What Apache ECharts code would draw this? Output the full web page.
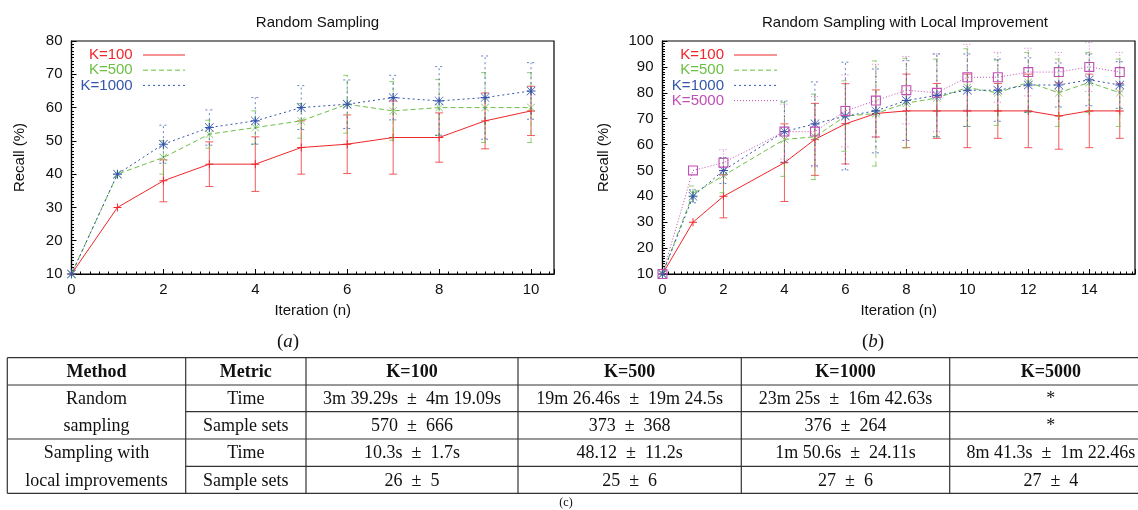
<!DOCTYPE html>
<html>
<head>
<meta charset="utf-8">
<script src="https://cdn.jsdelivr.net/npm/echarts@6/dist/echarts.min.js"></script>
<style>
html,body{margin:0;padding:0;background:#fff;}
#main{width:1138px;height:510px;}
</style>
</head>
<body>
<div id="main"></div>
<script>
// panel (a): Random Sampling
var iterA = [0, 1, 2, 3, 4, 5, 6, 7, 8, 9, 10];
var a100 = [10, 30, 38, 43, 43, 48, 49, 51, 51, 56, 59];
var a100Err = [0, 0, 6.3, 6.7, 8.2, 8, 8.8, 11, 7.4, 8.4, 7.4];
var a500 = [10, 40, 45, 52, 54, 56, 61, 59, 60, 60, 60];
var a500Err = [0, 0, 5, 4.2, 5, 5.2, 8.7, 8.8, 8.4, 10.5, 10.5];
var a1000 = [10, 40, 49, 54, 56, 60, 61, 63, 62, 63, 65];
var a1000Err = [0, 0, 5.7, 5.3, 7, 6.6, 7.3, 6.7, 10.3, 12.5, 8.5];

// panel (b): Random Sampling with Local Improvement (no run at n=3)
var iterB = [0, 1, 2, 4, 5, 6, 7, 8, 9, 10, 11, 12, 13, 14, 15];
var b100 = [10, 30, 40, 53, 62, 68, 72, 73, 73, 73, 73, 73, 71, 73, 73];
var b100Err = [0, 0, 8.3, 15, 13.9, 15.5, 9.1, 14.2, 10.6, 14.2, 10.6, 14.2, 12.8, 14.2, 10.6];
var b500 = [10, 41, 48, 62, 63, 71, 72, 76, 78, 82, 80, 84, 80, 84, 80];
var b500Err = [0, 3, 6.6, 14.3, 16.5, 13.6, 20.3, 17.3, 15, 15, 12.6, 11.6, 13, 11.6, 13];
var b1000 = [10, 40, 50, 65, 68, 71, 73, 77, 79, 81, 81, 83, 83, 85, 83];
var b1000Err = [0, 2.5, 5, 11.8, 16.2, 20.8, 16.2, 15.4, 16, 14, 12, 10.5, 8.5, 10, 9];
var b5000 = [10, 50, 53, 65, 65, 73, 77, 81, 80, 86, 86, 88, 88, 90, 88];
var b5000Err = [0, 0, 5, 10.6, 13.6, 13.9, 14, 13, 15, 12.7, 9.6, 9.2, 7.6, 9.5, 7.6];

// tick labels
var xTicksA = [0, 2, 4, 6, 8, 10];
var yTicksA = [10, 20, 30, 40, 50, 60, 70, 80];
var xTicksB = [0, 2, 4, 6, 8, 10, 12, 14];
var yTicksB = [10, 20, 30, 40, 50, 60, 70, 80, 90, 100];

// table (c)
var PM = '\u2002\u00b1\u2002';
var tableHeader = ['Method', 'Metric', 'K=100', 'K=500', 'K=1000', 'K=5000'];
var methodLabels = [['Random', 'sampling'], ['Sampling with', 'local improvements']];
var metricLabels = ['Time', 'Sample sets', 'Time', 'Sample sets'];
var tableCells = [
    ['3m 39.29s' + PM + '4m 19.09s', '19m 26.46s' + PM + '19m 24.5s', '23m 25s' + PM + '16m 42.63s', '*'],
    ['570' + PM + '666', '373' + PM + '368', '376' + PM + '264', '*'],
    ['10.3s' + PM + '1.7s', '48.12' + PM + '11.2s', '1m 50.6s' + PM + '24.11s', '8m 41.3s' + PM + '1m 22.46s'],
    ['26' + PM + '5', '25' + PM + '6', '27' + PM + '6', '27' + PM + '4']
];

var SANS = '"Liberation Sans", Arial, sans-serif';
var SERIF = '"Liberation Serif", "Times New Roman", serif';

var PLUS = 'path://M0,4.4H10V5.6H0Z M4.4,0H5.6V10H4.4Z';
var CROSS = 'path://M0.5,0L5,4.5L9.5,0L10,0.5L5.5,5L10,9.5L9.5,10L5,5.5L0.5,10L0,9.5L4.5,5L0,0.5Z';
var STAR = 'path://M0.5,0L5,4.5L9.5,0L10,0.5L5.5,5L10,9.5L9.5,10L5,5.5L0.5,10L0,9.5L4.5,5L0,0.5Z M0,4.4H10V5.6H0Z M4.4,0H5.6V10H4.4Z';
var BOX = 'path://M0,0H10V10H0Z M1.1,1.1V8.9H8.9V1.1Z';

var styles = {
    k100: {label: 'K=100', color: '#f0262a', dash: null, symbol: PLUS, size: 8, z: 2},
    k500: {label: 'K=500', color: '#6cbf45', dash: [5, 3], symbol: CROSS, size: 8, z: 3},
    k1000: {label: 'K=1000', color: '#3455ab', dash: [2, 3], symbol: STAR, size: 9, z: 4},
    k5000: {label: 'K=5000', color: '#c04fb4', dash: [1, 2], symbol: BOX, size: 10, z: 5}
};

function lineSeries(gi, xs, ys, st) {
    return {
        type: 'line', name: st.label, xAxisIndex: gi, yAxisIndex: gi,
        data: xs.map(function (x, i) { return [x, ys[i]]; }),
        symbol: st.symbol, symbolSize: st.size, showSymbol: true, clip: false,
        lineStyle: {color: st.color, width: 1, type: st.dash || 'solid'},
        itemStyle: {color: st.color, borderWidth: 0},
        z: st.z, animation: false
    };
}

function errSeries(gi, xs, ys, errs, st) {
    var data = [];
    xs.forEach(function (x, i) {
        if (errs[i] > 0) data.push([x, ys[i] - errs[i], ys[i] + errs[i]]);
    });
    return {
        type: 'custom', xAxisIndex: gi, yAxisIndex: gi, data: data, clip: false, silent: true,
        z: st.z, animation: false,
        encode: {x: 0, y: [1, 2]},
        renderItem: function (params, api) {
            var lo = api.coord([api.value(0), api.value(1)]);
            var hi = api.coord([api.value(0), api.value(2)]);
            var c = 4;
            function sty() {
                return {stroke: st.color, lineWidth: 1, lineDash: st.dash, opacity: 0.75};
            }
            return {type: 'group', children: [
                {type: 'line', shape: {x1: lo[0], y1: lo[1], x2: hi[0], y2: hi[1]}, style: sty()},
                {type: 'line', shape: {x1: lo[0] - c, y1: lo[1], x2: lo[0] + c, y2: lo[1]}, style: sty()},
                {type: 'line', shape: {x1: hi[0] - c, y1: hi[1], x2: hi[0] + c, y2: hi[1]}, style: sty()}
            ]};
        }
    };
}

function xAxisCfg(gi, ticks, max) {
    return {
        type: 'value', gridIndex: gi, min: ticks[0], max: max, interval: ticks[1] - ticks[0],
        name: 'Iteration (n)', nameLocation: 'middle', nameGap: 29,
        nameTextStyle: {fontSize: 15, color: '#111', fontFamily: SANS},
        axisLine: {show: true, onZero: false, lineStyle: {color: '#000', width: 1.2}},
        axisTick: {show: true, inside: true, length: 5, lineStyle: {color: '#000', width: 1}},
        minorTick: {show: true, splitNumber: 10, length: 2.5, lineStyle: {color: '#000', width: 1}},
        axisLabel: {margin: 8, fontSize: 15, color: '#111', fontFamily: SANS,
            formatter: function (v) { return ticks.indexOf(v) >= 0 ? String(v) : ''; }},
        splitLine: {show: false}
    };
}

function yAxisCfg(gi, ticks, gap) {
    return {
        type: 'value', gridIndex: gi, min: ticks[0], max: ticks[ticks.length - 1], interval: ticks[1] - ticks[0],
        name: 'Recall (%)', nameLocation: 'middle', nameGap: gap,
        nameTextStyle: {fontSize: 15, color: '#111', fontFamily: SANS},
        axisLine: {show: true, onZero: false, lineStyle: {color: '#000', width: 1.2}},
        axisTick: {show: true, inside: true, length: 5, lineStyle: {color: '#000', width: 1}},
        minorTick: {show: true, splitNumber: 10, length: 2.5, lineStyle: {color: '#000', width: 1}},
        axisLabel: {margin: 9, fontSize: 15, color: '#111', fontFamily: SANS},
        splitLine: {show: false}
    };
}

// legend drawn as key lines like the original plot
function legendItems(keys, textRight, lineX1, lineX2, y0) {
    var out = [];
    keys.forEach(function (k, i) {
        var st = styles[k];
        var y = y0 + i * 15.2;
        out.push({type: 'text', silent: true, style: {text: st.label, x: textRight, y: y, align: 'right', verticalAlign: 'middle',
            font: '15px ' + SANS, fill: st.color}});
        out.push({type: 'line', silent: true, shape: {x1: lineX1, y1: y, x2: lineX2, y2: y},
            style: {stroke: st.color, lineWidth: 1, lineDash: st.dash}});
    });
    return out;
}

var colX = [7.3, 185.7, 306, 518, 741.3, 949.7, 1152];
var rowY = [357.7, 385, 411.7, 439, 466.3, 493.3];

function tableItems() {
    var out = [];
    var lineSty = {stroke: '#333', lineWidth: 1.2};
    [0, 1, 3, 5].forEach(function (r) {
        out.push({type: 'line', silent: true, shape: {x1: colX[0], y1: rowY[r], x2: colX[6], y2: rowY[r]}, style: lineSty});
    });
    [2, 4].forEach(function (r) {
        out.push({type: 'line', silent: true, shape: {x1: colX[1], y1: rowY[r], x2: colX[6], y2: rowY[r]}, style: lineSty});
    });
    colX.forEach(function (x) {
        out.push({type: 'line', silent: true, shape: {x1: x, y1: rowY[0], x2: x, y2: rowY[5]}, style: lineSty});
    });
    function cell(text, c, r, bold) {
        out.push({type: 'text', silent: true, style: {text: text, x: (colX[c] + colX[c + 1]) / 2, y: (rowY[r] + rowY[r + 1]) / 2 + 1,
            align: 'center', verticalAlign: 'middle', font: (bold ? 'bold ' : '') + '18px ' + SERIF, fill: '#111'}});
    }
    tableHeader.forEach(function (h, c) { cell(h, c, 0, true); });
    methodLabels.forEach(function (pair, m) {
        cell(pair[0], 0, 1 + m * 2);
        cell(pair[1], 0, 2 + m * 2);
    });
    metricLabels.forEach(function (t, r) { cell(t, 1, r + 1); });
    tableCells.forEach(function (row, r) {
        row.forEach(function (t, c) { cell(t, c + 2, r + 1); });
    });
    return out;
}

function panelLabel(letter, x, y) {
    return {type: 'text', silent: true, style: {text: '({i|' + letter + '})', x: x, y: y, align: 'center', verticalAlign: 'middle',
        font: '19px ' + SERIF, fill: '#111',
        rich: {i: {fontStyle: 'italic', fontSize: 19, fontFamily: SERIF, fill: '#111'}}}};
}

var chart = echarts.init(document.getElementById('main'), null, {renderer: 'canvas'});

var option = {
    backgroundColor: '#fff',
    animation: false,
    title: [
        {text: 'Random Sampling', left: 312.5, top: 10, textAlign: 'center',
            textStyle: {fontSize: 15, fontWeight: 'normal', color: '#111', fontFamily: SANS}},
        {text: 'Random Sampling with Local Improvement', left: 900, top: 10, textAlign: 'center',
            textStyle: {fontSize: 15, fontWeight: 'normal', color: '#111', fontFamily: SANS}}
    ],
    grid: [
        {left: 71.5, top: 41, width: 482.5, height: 233, show: true, borderColor: '#000', borderWidth: 1.2, containLabel: false},
        {left: 662.5, top: 41, width: 474, height: 233, show: true, borderColor: '#000', borderWidth: 1.2, containLabel: false}
    ],
    xAxis: [xAxisCfg(0, xTicksA, 10.5), xAxisCfg(1, xTicksB, 15.5)],
    yAxis: [yAxisCfg(0, yTicksA, 44), yAxisCfg(1, yTicksB, 51)],
    series: [
        errSeries(0, iterA, a100, a100Err, styles.k100),
        errSeries(0, iterA, a500, a500Err, styles.k500),
        errSeries(0, iterA, a1000, a1000Err, styles.k1000),
        lineSeries(0, iterA, a100, styles.k100),
        lineSeries(0, iterA, a500, styles.k500),
        lineSeries(0, iterA, a1000, styles.k1000),
        errSeries(1, iterB, b100, b100Err, styles.k100),
        errSeries(1, iterB, b500, b500Err, styles.k500),
        errSeries(1, iterB, b1000, b1000Err, styles.k1000),
        errSeries(1, iterB, b5000, b5000Err, styles.k5000),
        lineSeries(1, iterB, b100, styles.k100),
        lineSeries(1, iterB, b500, styles.k500),
        lineSeries(1, iterB, b1000, styles.k1000),
        lineSeries(1, iterB, b5000, styles.k5000)
    ],
    graphic: [].concat(
        legendItems(['k100', 'k500', 'k1000'], 132.7, 143, 185, 55),
        legendItems(['k100', 'k500', 'k1000', 'k5000'], 724, 734, 777, 55),
        [panelLabel('a', 288, 342), panelLabel('b', 873, 342)],
        tableItems(),
        [{type: 'text', silent: true, style: {text: '(c)', x: 566, y: 503, align: 'center', verticalAlign: 'middle',
            font: '12px ' + SERIF, fill: '#111'}}]
    )
};

chart.setOption(option);
</script>
</body>
</html>
